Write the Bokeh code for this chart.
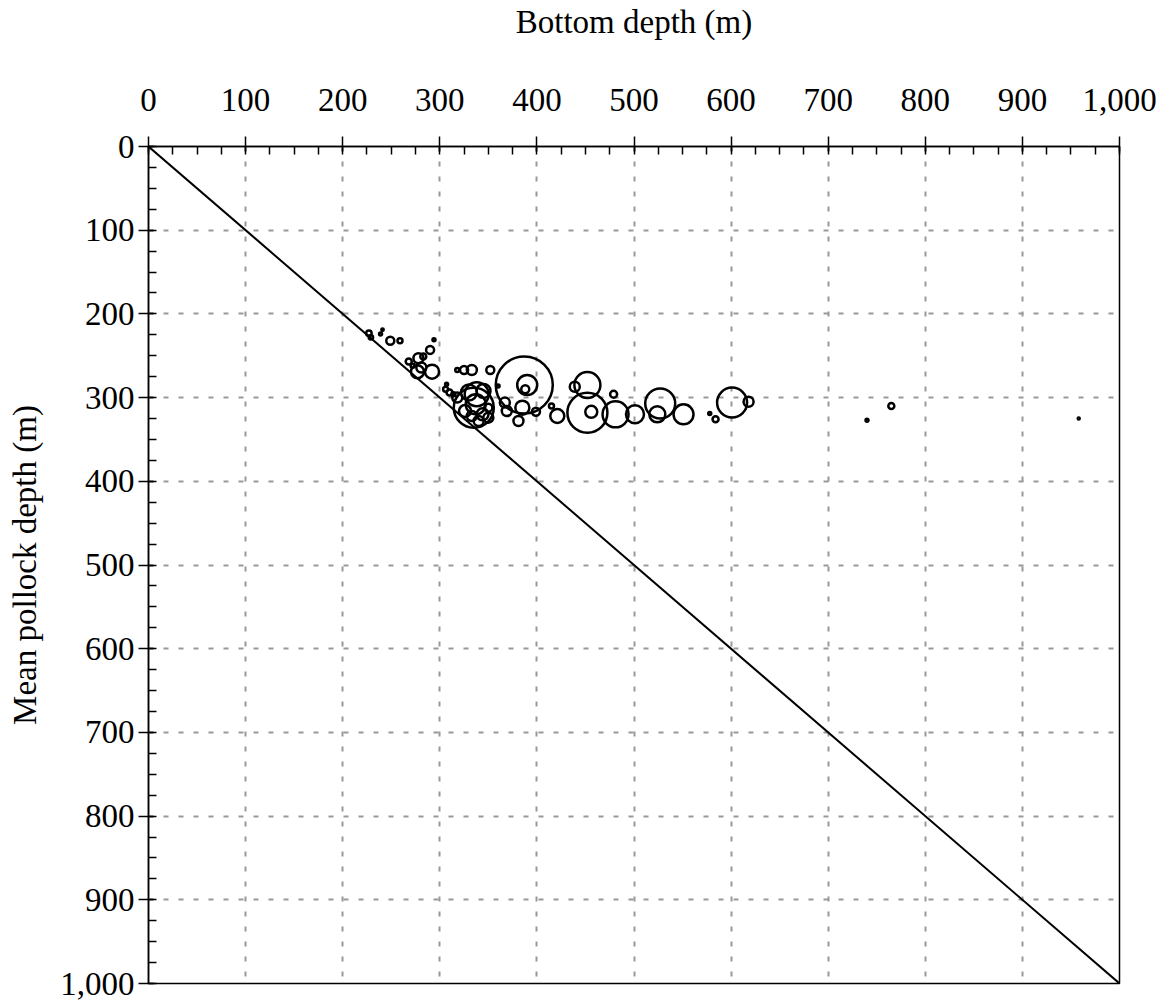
from bokeh.plotting import figure
from bokeh.models import Range1d, SingleIntervalTicker, NumeralTickFormatter, ColumnDataSource
from bokeh.embed import file_html
from bokeh.resources import INLINE

# Bottom depth (m), mean pollock depth (m), relative catch (bubble radius scale)
bottom_depth = [227, 229, 239, 241, 249, 259, 294, 290, 283, 278, 268, 272, 277, 292, 281,
                318, 325, 333, 352, 307, 306, 310, 314, 318, 330, 338, 345, 337, 335, 326,
                333, 344, 350, 340, 350, 360, 367, 369, 385, 381, 399, 415, 421, 387, 390,
                388, 439, 452, 452, 456, 479, 481, 501, 527, 524, 551, 578, 584, 601, 618,
                740, 765, 958]
pollock_depth = [223, 228, 224, 219, 232, 232, 231, 243, 251, 253, 257, 262, 269, 269, 264,
                 267, 267, 267, 267, 284, 290, 294, 296, 300, 294, 296, 292, 308, 312, 316,
                 322, 320, 324, 328, 312, 286, 306, 316, 312, 328, 317, 310, 322, 285, 285,
                 290, 287, 285, 318, 317, 296, 320, 320, 307, 320, 320, 319, 326, 306, 305,
                 327, 310, 325]
catch_rel = [2.7, 2.2, 1.5, 1.2, 4, 2.5, 1.5, 4, 3, 5, 3, 2, 6.5, 7, 5,
             2, 4, 5, 4, 1.5, 2.5, 3, 2, 5, 8, 12, 7, 10, 20, 6,
             5, 6, 5, 5, 4, 1.5, 5, 5, 7, 5, 4, 2.5, 7, 28.5, 10,
             4, 5, 13, 20, 6, 3.5, 13, 9, 15, 8, 10, 1.5, 3, 15, 5,
             1.5, 3, 1]
ref_line = [0, 1000]

FONT = "Liberation Serif"

p = figure(width=1161, height=1002,
           x_range=Range1d(0, 1000), y_range=Range1d(1000, 0),
           x_axis_location="above", output_backend="svg", toolbar_location=None,
           min_border_left=148, min_border_right=42, min_border_top=146, min_border_bottom=19,
           background_fill_color="white", border_fill_color="white")

p.outline_line_color = "black"
p.outline_line_width = 1.5
p.outline_line_alpha = 1.0

for ax, lab in ((p.xaxis[0], "Bottom depth (m)"), (p.yaxis[0], "Mean pollock depth (m)")):
    ax.ticker = SingleIntervalTicker(interval=100, num_minor_ticks=4)
    ax.formatter = NumeralTickFormatter(format="0,0")
    ax.axis_label = lab
    ax.axis_label_text_font = FONT
    ax.axis_label_text_font_size = "33px"
    ax.axis_label_text_font_style = "normal"
    ax.axis_label_text_color = "black"
    ax.major_label_text_font = FONT
    ax.major_label_text_font_size = "33px"
    ax.major_label_text_color = "black"
    ax.axis_line_color = "black"
    ax.axis_line_width = 1.5
    ax.major_tick_line_color = "black"
    ax.major_tick_line_width = 1.5
    ax.minor_tick_line_color = "black"
    ax.minor_tick_line_width = 1.5
    ax.major_tick_out = 10
    ax.major_tick_in = 5
    ax.minor_tick_out = 0
    ax.minor_tick_in = 8

p.xaxis.major_label_standoff = 26
p.xaxis.axis_label_standoff = 46
p.yaxis.major_label_standoff = 4
p.yaxis.axis_label_standoff = 14

for g in (p.xgrid[0], p.ygrid[0]):
    g.ticker = SingleIntervalTicker(interval=100)
    g.grid_line_color = "#999999"
    g.grid_line_width = 2
    g.grid_line_dash = "5 10"

p.line(ref_line, ref_line, line_color="black", line_width=2)

src = ColumnDataSource(dict(x=bottom_depth, y=pollock_depth,
                            s=[2 * c for c in catch_rel]))
p.scatter("x", "y", size="s", marker="circle", source=src,
          fill_color=None, line_color="black", line_width=2.5)

open("out.html", "w").write(file_html(p, INLINE))
